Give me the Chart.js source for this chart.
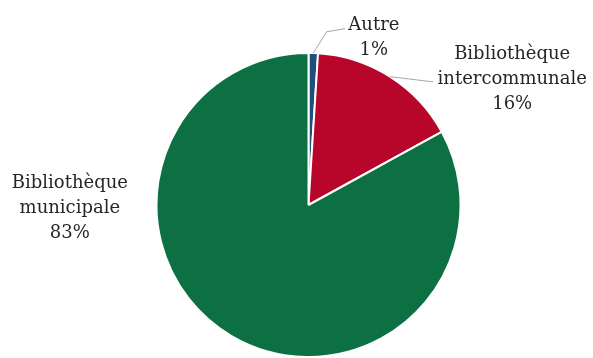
<!DOCTYPE html>
<html>
<head>
<meta charset="utf-8">
<script src="https://cdn.jsdelivr.net/npm/chart.js@4/dist/chart.umd.min.js"></script>
<style>
  html, body { margin: 0; padding: 0; background: #ffffff; }
  #wrap { position: relative; width: 593px; height: 358px; }
</style>
</head>
<body>
<div id="wrap"><canvas id="c" width="593" height="358"></canvas></div>
<script>
// Répartition par type de bibliothèque (en %)
const categories = ['Autre', 'Bibliothèque intercommunale', 'Bibliothèque municipale'];
const labelLines = [['Autre'], ['Bibliothèque', 'intercommunale'], ['Bibliothèque', 'municipale']];
const values = [1, 16, 83];
const colors = ['#1F4E79', '#B8062A', '#0C7042'];

// Label placement: centre of the first text line relative to the pie centre,
// in units of radius, plus an optional leader line to the slice edge.
const labelPlacement = [
  { dx: 0.43, dy: -1.18, leader: [[0.12, -1.14], [0.24, -1.16]] },
  { dx: 1.34, dy: -0.99, leader: [[0.82, -0.81]] },
  { dx: -1.57, dy: -0.14, leader: null }
];

const pieLabels = {
  id: 'pieLabels',
  afterDatasetsDraw(chart) {
    const ctx = chart.ctx;
    const meta = chart.getDatasetMeta(0);
    ctx.save();
    ctx.font = '18px "DejaVu Serif", serif';
    ctx.fillStyle = '#262626';
    ctx.textAlign = 'center';
    ctx.textBaseline = 'middle';
    meta.data.forEach((arc, i) => {
      const { x, y, startAngle, endAngle, outerRadius } = arc.getProps(['x', 'y', 'startAngle', 'endAngle', 'outerRadius'], true);
      const r = outerRadius;
      const mid = (startAngle + endAngle) / 2;
      const p = labelPlacement[i];
      if (p.leader) {
        ctx.strokeStyle = '#A6A6A6';
        ctx.lineWidth = 1;
        ctx.beginPath();
        ctx.moveTo(x + Math.cos(mid) * r, y + Math.sin(mid) * r);
        p.leader.forEach(([lx, ly]) => ctx.lineTo(x + lx * r, y + ly * r));
        ctx.stroke();
      }
      const lines = labelLines[i].concat([values[i] + '%']);
      const lh = 25;
      const cx = x + p.dx * r;
      const cy = y + p.dy * r;
      lines.forEach((t, k) => ctx.fillText(t, cx, cy + k * lh));
    });
    ctx.restore();
  }
};

new Chart(document.getElementById('c'), {
  type: 'pie',
  data: {
    labels: categories,
    datasets: [{
      data: values,
      backgroundColor: colors,
      borderColor: '#ffffff',
      borderWidth: 2
    }]
  },
  options: {
    responsive: false,
    animation: false,
    layout: { padding: { left: 155, right: 131, top: 52, bottom: 0 } },
    plugins: {
      legend: { display: false },
      tooltip: { enabled: false }
    }
  },
  plugins: [pieLabels]
});
</script>
</body>
</html>
